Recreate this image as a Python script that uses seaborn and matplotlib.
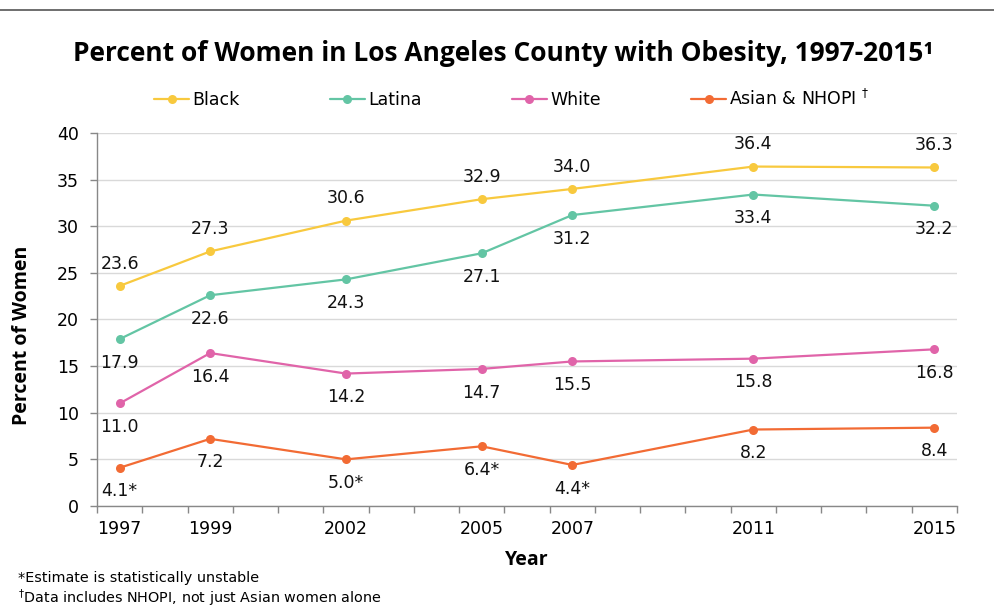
import matplotlib
matplotlib.use('Agg')
import matplotlib.pyplot as plt
import seaborn as sns
import pandas as pd
from matplotlib.lines import Line2D
from matplotlib.ticker import MultipleLocator

years = [1997, 1999, 2002, 2005, 2007, 2011, 2015]
groups = ['Black', 'Latina', 'White', 'Asian & NHOPI']
black = [23.6, 27.3, 30.6, 32.9, 34.0, 36.4, 36.3]
latina = [17.9, 22.6, 24.3, 27.1, 31.2, 33.4, 32.2]
white = [11.0, 16.4, 14.2, 14.7, 15.5, 15.8, 16.8]
asian = [4.1, 7.2, 5.0, 6.4, 4.4, 8.2, 8.4]
asian_unstable = [True, False, True, True, True, False, False]

colors = ['#F8C93E', '#63C5A4', '#E064A9', '#F26B34']
legend_labels = ['Black', 'Latina', 'White', r'Asian & NHOPI $^{\dagger}$']

rows = []
for g, vals in zip(groups, [black, latina, white, asian]):
    for y, v in zip(years, vals):
        rows.append([g, y, v])
df = pd.DataFrame(rows, columns=['group', 'year', 'pct'])

sns.set_style('white')
plt.rcParams['font.family'] = ['DejaVu Sans']
plt.rcParams['text.color'] = 'black'
plt.rcParams['axes.labelcolor'] = 'black'
plt.rcParams['xtick.color'] = 'black'
plt.rcParams['ytick.color'] = 'black'

fig = plt.figure(figsize=(9.94, 6.10), dpi=100)
ax = fig.add_axes([0.0976, 0.1705, 0.8652, 0.6115])

sns.lineplot(data=df, x='year', y='pct', hue='group', hue_order=groups,
             palette=colors, marker='o', markersize=6.5, markeredgewidth=0,
             linewidth=1.6, ax=ax, legend=False)

# data labels
for g, vals in zip(groups, [black, latina, white, asian]):
    for i, (y, v) in enumerate(zip(years, vals)):
        txt = f'{v:.1f}'
        if g == 'Asian & NHOPI' and asian_unstable[i]:
            txt += '*'
        off = 16 if g == 'Black' else -17
        ax.annotate(txt, (y, v), xytext=(0, off), textcoords='offset points',
                    ha='center', va='center', fontsize=12.5, color='#111111')

ax.set_xlim(1996.5, 2015.5)
ax.set_ylim(0, 40)
ax.set_xticks(years)
ax.set_xticks([x + 0.5 for x in range(1996, 2016)], minor=True)
ax.xaxis.set_minor_formatter(plt.NullFormatter())
ax.tick_params(axis='both', which='both', bottom=True, left=True)
ax.tick_params(axis='x', which='major', length=0, labelsize=12.5, pad=10)
ax.tick_params(axis='x', which='minor', length=5, color='#888888', width=1)
ax.yaxis.set_major_locator(MultipleLocator(5))
ax.tick_params(axis='y', which='major', length=5, color='#888888', width=1,
               labelsize=12.5, pad=8)
ax.tick_params(axis='y', which='minor', length=0)
ax.yaxis.grid(True, color='#d9d9d9', linewidth=1)
ax.set_axisbelow(True)
for s in ['top', 'right']:
    ax.spines[s].set_visible(False)
for s in ['left', 'bottom']:
    ax.spines[s].set_color('#888888')
    ax.spines[s].set_linewidth(1)

ax.set_xlabel('Year', fontsize=14, fontweight='bold', family='Open Sans', labelpad=9)
ax.set_ylabel('Percent of Women', fontsize=14, fontweight='bold', family='Open Sans')
ax.yaxis.set_label_coords(-0.076, 0.458)

fig.text(0.506, 0.913, 'Percent of Women in Los Angeles County with Obesity, 1997-2015¹',
         ha='center', va='center', fontsize=19, fontweight='bold', family='Open Sans')

handles = [Line2D([0], [0], color=c, marker='o', markersize=6.5, markeredgewidth=0, linewidth=1.6)
           for c in colors]
fig.legend(handles, legend_labels, loc='center', bbox_to_anchor=(0.515, 0.838), ncol=4,
           frameon=False, fontsize=12.5, handlelength=2.0, handletextpad=0.2,
           columnspacing=5.2)

fig.text(0.018, 0.053, '*Estimate is statistically unstable', fontsize=10.4, va='center')
fig.text(0.018, 0.02, r'$^{\dagger}$Data includes NHOPI, not just Asian women alone',
         fontsize=10.4, va='center')

fig.add_artist(Line2D([0, 1], [0.984, 0.984], color='#555555', linewidth=1.2,
                      transform=fig.transFigure))

fig.savefig('out.png', dpi=100)
